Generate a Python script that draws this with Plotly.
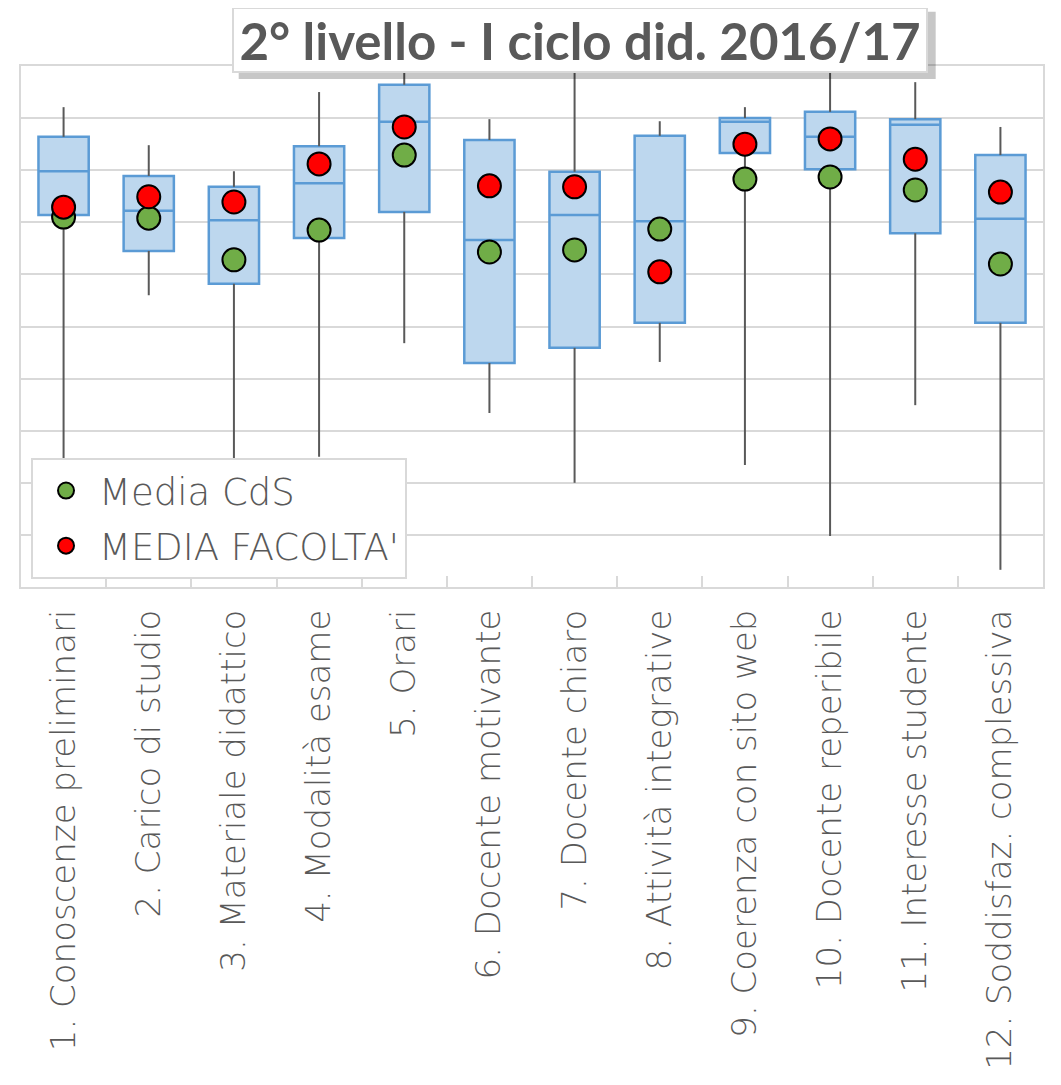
import plotly.graph_objects as go

# Questionnaire items (x categories)
categories = [
    "1. Conoscenze preliminari",
    "2. Carico di studio",
    "3. Materiale didattico",
    "4. Modalità esame",
    "5. Orari",
    "6. Docente motivante",
    "7. Docente chiaro",
    "8. Attività integrative",
    "9. Coerenza con sito web",
    "10. Docente reperibile",
    "11. Interesse studente",
    "12. Soddisfaz. complessiva",
]

# Box statistics (arbitrary 0-10 scale, no tick labels in the original)
whisker_low = [1.5, 5.60, 2.0, 2.5, 4.68, 3.34, 2.00, 4.32, 2.34, 0.98, 3.49, 0.33]
q1 = [7.14, 6.45, 5.82, 6.70, 7.20, 4.30, 4.59, 5.07, 8.33, 8.02, 6.79, 5.07]
median = [7.98, 7.22, 7.04, 7.75, 8.93, 6.66, 7.14, 7.02, 8.93, 8.64, 8.87, 7.07]
q3 = [8.64, 7.89, 7.68, 8.46, 9.64, 8.58, 7.97, 8.66, 9.00, 9.12, 8.98, 8.29]
whisker_high = [9.21, 8.48, 7.98, 9.50, 10.0, 8.98, 10.0, 8.94, 9.21, 10.0, 9.69, 8.83]

media_cds = [7.10, 7.08, 6.28, 6.85, 8.29, 6.43, 6.47, 6.87, 7.83, 7.87, 7.62, 6.20]
media_facolta = [7.29, 7.49, 7.39, 8.12, 8.83, 7.70, 7.68, 6.05, 8.50, 8.60, 8.21, 7.58]

TITLE = "2° livello - I ciclo did. 2016/17"

_BOX_LINE = "#5B9BD5"
_BOX_FILL = "#BDD7EE"
_WHISKER = "#595959"
_GRID = "#D9D9D9"
_TEXT = "#595959"
_TITLE_FONT = "Lato, 'Open Sans', sans-serif"
_LABEL_FONT = "'DejaVu Sans', sans-serif"

fig = go.Figure()

fig.add_trace(
    go.Box(
        x=categories,
        q1=q1,
        median=median,
        q3=q3,
        lowerfence=q1,
        upperfence=q3,
        width=0.59,
        whiskerwidth=0,
        line={"color": _BOX_LINE, "width": 2.5},
        fillcolor=_BOX_FILL,
        showlegend=False,
        hoverinfo="skip",
    )
)

# whiskers drawn separately so they can be dark gray like the original
wx, wy = [], []
for cat, lo, a, b, hi in zip(categories, whisker_low, q1, q3, whisker_high):
    wx += [cat, cat, None, cat, cat, None]
    wy += [lo, a, None, b, hi, None]
fig.add_trace(
    go.Scatter(
        x=wx,
        y=wy,
        mode="lines",
        line={"color": _WHISKER, "width": 2},
        showlegend=False,
        hoverinfo="skip",
    )
)

fig.add_trace(
    go.Scatter(
        x=categories,
        y=media_cds,
        mode="markers",
        name="Media CdS",
        legendgroup="cds",
        marker={"color": "#70AD47", "size": 23, "line": {"color": "#000000", "width": 2}},
    )
)
fig.add_trace(
    go.Scatter(
        x=categories,
        y=media_facolta,
        mode="markers",
        name="MEDIA FACOLTA'",
        legendgroup="fac",
        marker={"color": "#FF0000", "size": 23, "line": {"color": "#000000", "width": 2}},
    )
)

# title box with a soft drop shadow
fig.add_shape(
    type="rect",
    xref="paper",
    yref="paper",
    x0=0.213,
    x1=0.895,
    y0=0.975,
    y1=1.104,
    fillcolor="rgba(0,0,0,0.22)",
    line={"width": 0},
    layer="above",
)
fig.add_annotation(
    text=f"<b>{TITLE}</b>",
    xref="paper",
    yref="paper",
    x=0.547,
    y=1.049,
    xanchor="center",
    yanchor="middle",
    showarrow=False,
    width=688,
    height=58,
    bgcolor="#FFFFFF",
    bordercolor=_GRID,
    borderwidth=2,
    borderpad=2,
    font={"family": _TITLE_FONT, "size": 51, "color": _TEXT},
)

# the page body adds an 8px offset, so the figure is sized to compensate
fig.update_layout(
    width=1045,
    height=1069,
    margin={"l": 13, "r": 8, "t": 58, "b": 490},
    paper_bgcolor="#FFFFFF",
    plot_bgcolor="#FFFFFF",
    font={"family": _LABEL_FONT, "color": _TEXT},
    legend={
        "x": 0.0098,
        "y": 0.2476,
        "xanchor": "left",
        "yanchor": "top",
        "bgcolor": "#FFFFFF",
        "bordercolor": _GRID,
        "borderwidth": 2,
        "font": {"family": _LABEL_FONT, "size": 37, "color": _TEXT, "weight": 200},
        "tracegroupgap": 4,
        "itemwidth": 56,
    },
    xaxis={
        "type": "category",
        "range": [-0.5, len(categories) - 0.5],
        "automargin": False,
        "tickangle": -90,
        "tickfont": {"family": _LABEL_FONT, "size": 34, "color": _TEXT, "weight": 200},
        "ticklabelstandoff": 7,
        "tickson": "boundaries",
        "ticks": "inside",
        "ticklen": 11,
        "tickwidth": 2,
        "tickcolor": _GRID,
        "showline": True,
        "linecolor": _GRID,
        "linewidth": 2,
        "mirror": True,
        "showgrid": False,
    },
    yaxis={
        "range": [0, 10],
        "dtick": 1,
        "showticklabels": False,
        "showgrid": True,
        "gridcolor": _GRID,
        "gridwidth": 2,
        "zeroline": False,
        "showline": True,
        "linecolor": _GRID,
        "linewidth": 2,
        "mirror": True,
    },
)

fig.write_html("out.html")
